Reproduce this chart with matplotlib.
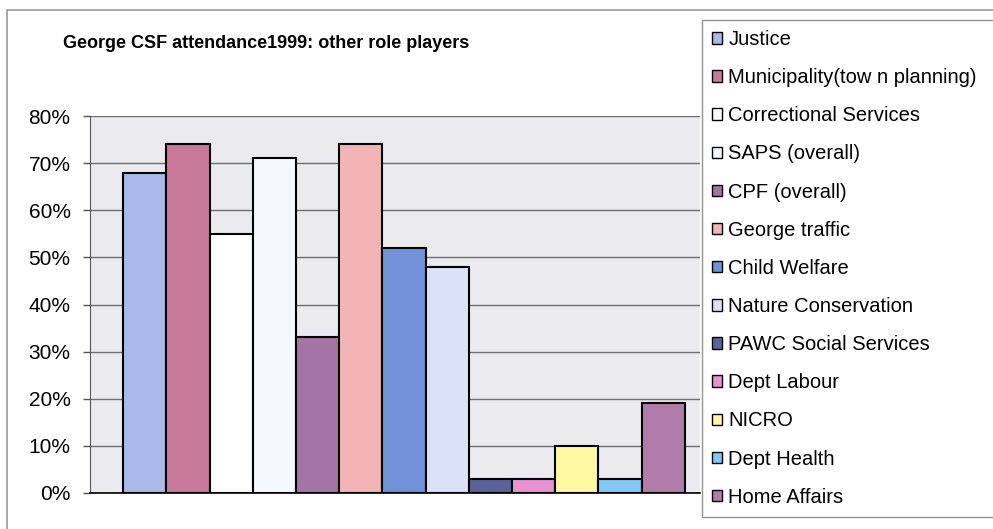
import numpy as np
import matplotlib.pyplot as plt
from matplotlib.patches import Patch, Rectangle

plt.rcParams['font.family'] = ['Liberation Sans', 'DejaVu Sans']

# attendance per role player (fraction of meetings)
players = ['Justice', 'Municipality(tow n planning)', 'Correctional Services',
           'SAPS (overall)', 'CPF (overall)', 'George traffic', 'Child Welfare',
           'Nature Conservation', 'PAWC Social Services', 'Dept Labour',
           'NICRO', 'Dept Health', 'Home Affairs']
attendance = [0.68, 0.74, 0.55, 0.71, 0.33, 0.74, 0.52, 0.48, 0.03, 0.03,
              0.10, 0.03, 0.19]
colors = ['#a9b9e9', '#c97a9a', '#ffffff', '#f3f9fc', '#a474a4', '#f2b4b4',
          '#7192d8', '#dbe2f8', '#5b6299', '#e992d2', '#fff8a2', '#82c8f6',
          '#b27caa']
yticks = [0, 0.1, 0.2, 0.3, 0.4, 0.5, 0.6, 0.7, 0.8]

fig = plt.figure(figsize=(9.93, 5.29), dpi=100)

# outer chart frame
fig.patches.append(Rectangle((7 / 993, -0.01), 1.0, 1 - 10 / 529 + 0.01,
                             transform=fig.transFigure, fill=False,
                             edgecolor='#9a9a9a', linewidth=1.2))

ax = fig.add_axes([90 / 993, 36 / 529, 610 / 993, 377 / 529])
ax.set_facecolor('#ebebef')

x = np.arange(len(players))
ax.bar(x, attendance, width=1.0, color=colors, edgecolor='black',
       linewidth=1.5, zorder=3)

ax.set_ylim(0, 0.8)
ax.set_xlim(-1.27, 12.85)
ax.set_yticks(yticks)
ax.set_yticklabels([f'{int(round(v * 100))}%' for v in yticks], fontsize=15)
ax.set_xticks([])
ax.yaxis.grid(True, color='#6e6e6e', linewidth=1.0, zorder=1)
ax.tick_params(axis='y', length=5, width=1, color='#555555', pad=9)
for s in ['top', 'right']:
    ax.spines[s].set_visible(False)
ax.spines['left'].set_color('#555555')
ax.spines['bottom'].set_color('black')
ax.spines['bottom'].set_linewidth(1.2)
ax.spines['bottom'].set_zorder(4)

fig.text(63 / 993, 1 - 44 / 529, 'George CSF attendance1999: other role players',
         ha='left', va='center', fontsize=13, fontweight='bold')

handles = [Patch(facecolor=c, edgecolor='black', linewidth=1.0) for c in colors]
leg = fig.legend(handles, players, loc='upper left', mode='expand',
                 bbox_to_anchor=(702 / 993, 1 - 20 / 529, 320 / 993, 0),
                 fontsize=14.5, frameon=True, fancybox=False,
                 edgecolor='#777777', handlelength=0.5, handleheight=0.5,
                 handletextpad=0.3, labelspacing=0.95, borderpad=0.5,
                 borderaxespad=0)
leg.get_frame().set_linewidth(1.0)

plt.savefig('out.png', dpi=100)
